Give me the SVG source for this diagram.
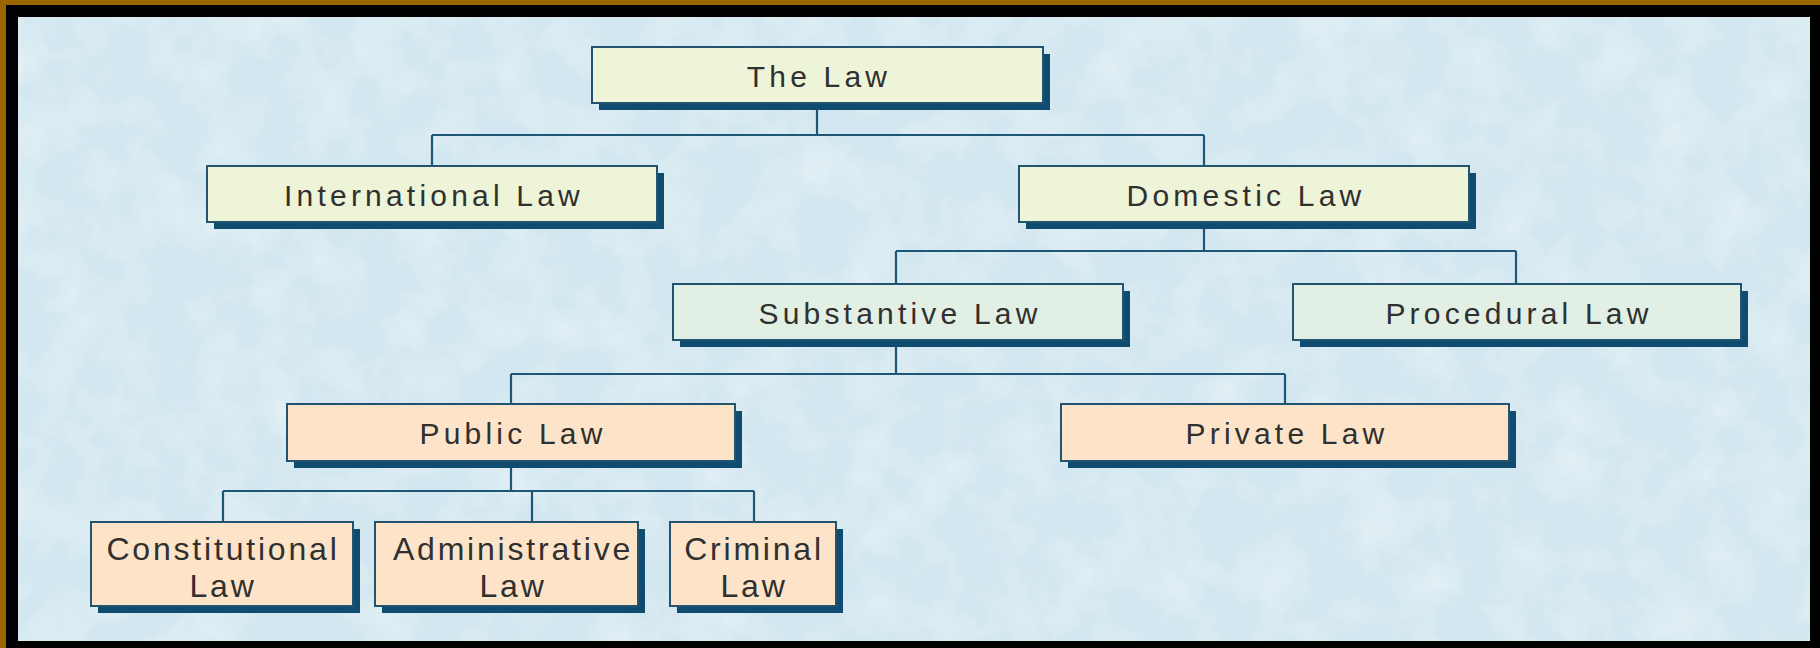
<svg xmlns="http://www.w3.org/2000/svg" width="1820" height="648" viewBox="0 0 1820 648">
<defs>
<filter id="tex" x="0" y="0" width="100%" height="100%">
<feTurbulence type="fractalNoise" baseFrequency="0.02" numOctaves="4" seed="3" result="n"/>
<feColorMatrix in="n" type="matrix" values="0 0 0 0 1  0 0 0 0 1  0 0 0 0 1  0 0 0 0.9 -0.35" result="w"/>
<feComposite in="w" in2="SourceGraphic" operator="in"/>
</filter>
<style>
.sh{fill:#104b70}
.bx{stroke:#23546f;stroke-width:2}
.y{fill:#eef4d7}
.m{fill:#e1efe4}
.p{fill:#fde4c8}
.t{font-family:"Liberation Sans",Arial,sans-serif;fill:#303030;text-anchor:middle;dominant-baseline:central}
.t1{font-size:30px;letter-spacing:4.2px}
.t2{font-size:32px;letter-spacing:2.8px}
.ln{stroke:#1d5677;stroke-width:2.2;fill:none}
</style>
</defs>
<rect x="0" y="0" width="1820" height="648" fill="#000"/>
<rect x="0" y="0" width="1820" height="5" fill="#996600"/>
<rect x="0" y="0" width="6" height="648" fill="#996600"/>
<rect x="18" y="17" width="1792" height="624" fill="#d3e7f0"/>
<rect x="18" y="17" width="1792" height="624" fill="#d3e7f0" filter="url(#tex)" opacity="0.8"/>

<g id="connectors">
<path class="ln" d="M817 103V135M432 135H1204M432 135V166M1204 135V166"/>
<path class="ln" d="M1204 222V251M896 251H1516M896 251V284M1516 251V284"/>
<path class="ln" d="M896 340V374M511 374H1285M511 374V404M1285 374V404"/>
<path class="ln" d="M511 461V491M223 491H754M223 491V522M532 491V522M754 491V522"/>
</g>

<g id="n-law">
<rect class="sh" x="599" y="54" width="451" height="56"/>
<rect class="bx y" x="592" y="47" width="451" height="56"/>
<text class="t t1" x="819" y="76">The Law</text>
</g>
<g id="n-international">
<rect class="sh" x="214" y="173" width="450" height="56"/>
<rect class="bx y" x="207" y="166" width="450" height="56"/>
<text class="t t1" x="434" y="195">International Law</text>
</g>
<g id="n-domestic">
<rect class="sh" x="1026" y="173" width="450" height="56"/>
<rect class="bx y" x="1019" y="166" width="450" height="56"/>
<text class="t t1" x="1246" y="195">Domestic Law</text>
</g>
<g id="n-substantive">
<rect class="sh" x="680" y="291" width="450" height="56"/>
<rect class="bx m" x="673" y="284" width="450" height="56"/>
<text class="t t1" x="900" y="313">Substantive Law</text>
</g>
<g id="n-procedural">
<rect class="sh" x="1300" y="291" width="448" height="56"/>
<rect class="bx m" x="1293" y="284" width="448" height="56"/>
<text class="t t1" x="1519" y="313">Procedural Law</text>
</g>
<g id="n-public">
<rect class="sh" x="294" y="411" width="448" height="57"/>
<rect class="bx p" x="287" y="404" width="448" height="57"/>
<text class="t t1" x="513" y="433">Public Law</text>
</g>
<g id="n-private">
<rect class="sh" x="1068" y="411" width="448" height="57"/>
<rect class="bx p" x="1061" y="404" width="448" height="57"/>
<text class="t t1" x="1287" y="433">Private Law</text>
</g>
<g id="n-constitutional">
<rect class="sh" x="98" y="529" width="262" height="84"/>
<rect class="bx p" x="91" y="522" width="262" height="84"/>
<text class="t t2" x="223" y="549">Constitutional</text>
<text class="t t2" x="223" y="586">Law</text>
</g>
<g id="n-administrative">
<rect class="sh" x="382" y="529" width="263" height="84"/>
<rect class="bx p" x="375" y="522" width="263" height="84"/>
<text class="t t2" x="513" y="549">Administrative</text>
<text class="t t2" x="513" y="586">Law</text>
</g>
<g id="n-criminal">
<rect class="sh" x="677" y="529" width="166" height="84"/>
<rect class="bx p" x="670" y="522" width="166" height="84"/>
<text class="t t2" x="754" y="549">Criminal</text>
<text class="t t2" x="754" y="586">Law</text>
</g>
</svg>
